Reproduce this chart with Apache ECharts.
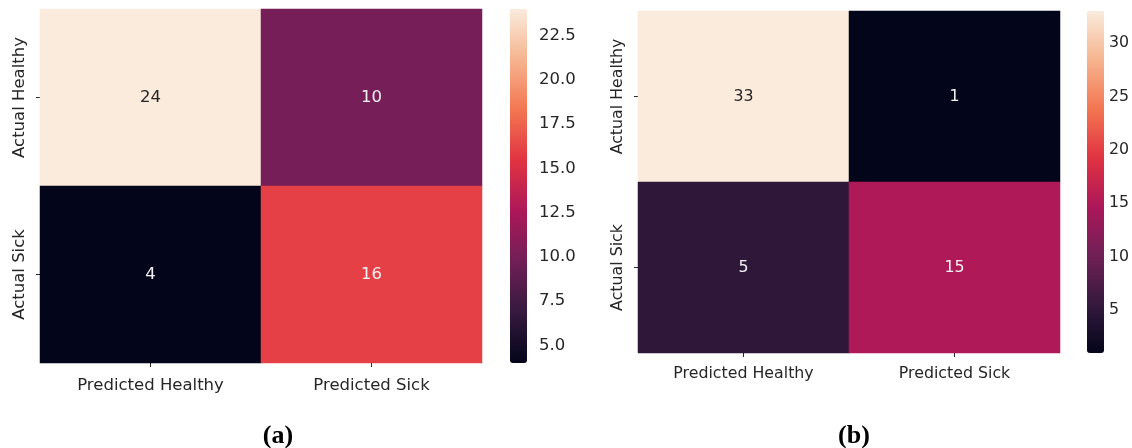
<!DOCTYPE html>
<html>
<head>
<meta charset="utf-8">
<script src="https://cdn.jsdelivr.net/npm/echarts@6/dist/echarts.min.js"></script>
<style>
  html, body { margin: 0; padding: 0; background: #ffffff; }
  #chart { width: 1132px; height: 448px; }
</style>
</head>
<body>
<div id="chart"></div>
<script>
// Axis categories
const predictedLabels = ['Predicted Healthy', 'Predicted Sick'];
const actualLabels = ['Actual Healthy', 'Actual Sick'];

// Confusion matrices: rows = actual class, columns = predicted class
const matrixA = [[24, 10], [4, 16]];
const matrixB = [[33, 1], [5, 15]];

// Colour bar tick values
const ticksA = [5, 7.5, 10, 12.5, 15, 17.5, 20, 22.5];
const ticksB = [5, 10, 15, 20, 25, 30];

const panelTitles = ['(a)', '(b)'];

// "rocket" sequential palette, evenly spaced stops
const rocket = ['#03051a', '#35193e', '#701f57', '#ad1759', '#e13342', '#f37651', '#f6b48f', '#faebdd'];

const FONT = 'DejaVu Sans';
const INK = '#262626';

// Layout of each panel: heatmap box, colour bar box, text sizes
const layouts = [
  { grid: { left: 40, top: 9, width: 442, height: 354 }, bar: { left: 510, width: 17 },
    font: 16.5, yMargin: 12, xMargin: 14, titleX: 273 },
  { grid: { left: 638, top: 11, width: 422, height: 342 }, bar: { left: 1087, width: 17 },
    font: 15.8, yMargin: 12, xMargin: 13, titleX: 849 }
];

const panels = [
  { matrix: matrixA, ticks: ticksA },
  { matrix: matrixB, ticks: ticksB }
];

const option = {
  backgroundColor: '#ffffff',
  animation: false,
  title: [],
  grid: [],
  xAxis: [],
  yAxis: [],
  visualMap: [],
  series: []
};

panels.forEach((p, i) => {
  const L = layouts[i];
  // heatmap grid
  option.grid.push(Object.assign({ containLabel: false }, L.grid));
  // colour bar tick grid, laid over the visualMap bar
  option.grid.push({ left: L.bar.left, width: L.bar.width, top: L.grid.top, height: L.grid.height });
});

panels.forEach((p, i) => {
  const L = layouts[i];
  const flat = p.matrix.flat();
  const vmin = Math.min(...flat);
  const vmax = Math.max(...flat);
  const hg = i * 2;      // heatmap grid index
  const cg = i * 2 + 1;  // colour bar grid index
  const tickStyle = { show: true, length: 4, lineStyle: { color: INK, width: 1 } };

  option.xAxis.push({
    gridIndex: hg, type: 'category', data: predictedLabels,
    axisLine: { show: false },
    axisTick: Object.assign({ alignWithLabel: true }, tickStyle),
    axisLabel: { fontFamily: FONT, fontSize: L.font, color: INK, margin: L.xMargin },
    splitLine: { show: false }, splitArea: { show: false }
  });
  option.yAxis.push({
    gridIndex: hg, type: 'category', data: actualLabels, inverse: true,
    axisLine: { show: false },
    axisTick: Object.assign({ alignWithLabel: true }, tickStyle),
    axisLabel: { fontFamily: FONT, fontSize: L.font, color: INK, rotate: 90, margin: L.yMargin },
    splitLine: { show: false }, splitArea: { show: false }
  });

  const decimals = p.ticks.some(v => !Number.isInteger(v)) ? 1 : 0;
  option.xAxis.push({ gridIndex: cg, type: 'value', show: false });
  option.yAxis.push({
    gridIndex: cg, type: 'value', min: vmin, max: vmax, position: 'right',
    axisLine: { show: false },
    axisTick: Object.assign({ customValues: p.ticks }, tickStyle),
    axisLabel: {
      customValues: p.ticks, fontFamily: FONT, fontSize: L.font, color: INK, margin: 12,
      formatter: v => Number(v).toFixed(decimals)
    },
    splitLine: { show: false }
  });

  option.visualMap.push({
    type: 'continuous', seriesIndex: i, dimension: 2,
    min: vmin, max: vmax, calculable: false, show: true,
    orient: 'vertical', left: L.bar.left, top: L.grid.top, padding: 0,
    itemWidth: L.bar.width, itemHeight: L.grid.height,
    text: null, showLabel: false, hoverLink: false,
    inRange: { color: rocket }
  });

  const cells = [];
  p.matrix.forEach((row, r) => {
    row.forEach((v, c) => {
      const t = (v - vmin) / (vmax - vmin);
      cells.push({ value: [c, r, v], label: { color: t > 0.75 ? INK : '#f2f2f2' } });
    });
  });

  option.series.push({
    type: 'heatmap', xAxisIndex: hg, yAxisIndex: hg, data: cells,
    label: {
      show: true, fontFamily: FONT, fontSize: L.font,
      formatter: d => String(d.value[2])
    },
    emphasis: { disabled: true },
    itemStyle: { borderWidth: 0 }
  });

  option.title.push({
    text: panelTitles[i], left: L.titleX, top: 418, textAlign: 'center',
    textStyle: { fontFamily: 'Liberation Serif', fontWeight: 'bold', fontSize: 26, color: '#000' }
  });
});

const chart = echarts.init(document.getElementById('chart'), null, { renderer: 'canvas' });
chart.setOption(option);
</script>
</body>
</html>
